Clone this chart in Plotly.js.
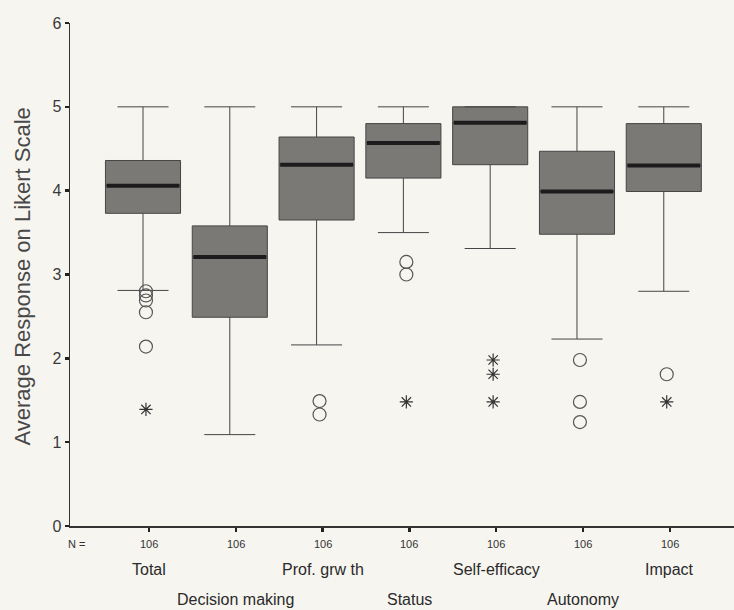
<!DOCTYPE html>
<html>
<head>
<meta charset="utf-8">
<script src="https://cdn.plot.ly/plotly-3.0.1.min.js"></script>
<style>html,body{margin:0;padding:0;background:#f7f5f0;}</style>
</head>
<body>
<div id="chart" style="width:734px;height:610px;"></div>
<script>
// Categories (first row / second row alternate)
const categories = ["Total", "Decision making", "Prof. grw th", "Status", "Self-efficacy", "Autonomy", "Impact"];
const nValues = [106, 106, 106, 106, 106, 106, 106];
const yTickValues = [0, 1, 2, 3, 4, 5, 6];

// Box statistics
const upperWhisker = [5.0, 5.0, 5.0, 5.0, 5.0, 5.0, 5.0];
const q3 = [4.36, 3.58, 4.64, 4.80, 5.0, 4.47, 4.80];
const median = [4.06, 3.21, 4.31, 4.57, 4.81, 3.99, 4.30];
const q1 = [3.73, 2.49, 3.65, 4.15, 4.31, 3.48, 3.99];
const lowerWhisker = [2.81, 1.09, 2.16, 3.50, 3.31, 2.23, 2.80];

// Outliers (circles) and extremes (asterisks) per category
const outlierCircles = [[2.80, 2.75, 2.69, 2.55, 2.14], [], [1.49, 1.33], [3.15, 3.00], [], [1.98, 1.48, 1.24], [1.81]];
const extremeStars = [[1.39], [], [], [1.48], [1.98, 1.81, 1.48], [], [1.48]];

// small drawing offsets of the original (style, in category units)
const boxShift = -0.069;
const markShift = -0.035;

const pos = categories.map((c, i) => i);
const boxPos = pos.map(p => p + boxShift);

function flatten(groups) {
  const xs = [], ys = [];
  groups.forEach((g, i) => g.forEach(v => { xs.push(i + markShift); ys.push(v); }));
  return {xs, ys};
}
const circ = flatten(outlierCircles);
const star = flatten(extremeStars);

const FONT = 'Liberation Sans, Arial, sans-serif';
const boxW = 0.865;
const traces = [
  {
    type: 'box', x: boxPos, q1: q1, median: median, q3: q3,
    lowerfence: lowerWhisker, upperfence: upperWhisker,
    width: boxW, whiskerwidth: 0.68, boxpoints: false,
    fillcolor: '#7b7976', line: {color: '#454545', width: 1},
    hoverinfo: 'skip', showlegend: false
  },
  {
    type: 'box', x: boxPos, q1: median, median: median, q3: median,
    lowerfence: median, upperfence: median,
    width: boxW * 0.97, whiskerwidth: 0, boxpoints: false,
    fillcolor: 'rgba(0,0,0,0)', line: {color: '#1c1c1c', width: 4},
    hoverinfo: 'skip', showlegend: false
  },
  {
    type: 'scatter', mode: 'markers', x: circ.xs, y: circ.ys,
    marker: {symbol: 'circle-open', size: 13, color: '#555', line: {color: '#555', width: 1.2}},
    hoverinfo: 'skip', showlegend: false
  },
  {
    type: 'scatter', mode: 'markers', x: star.xs, y: star.ys,
    marker: {symbol: 'asterisk-open', size: 11, color: '#333', line: {color: '#333', width: 1.2}},
    hoverinfo: 'skip', showlegend: false
  }
];

const annotations = [];
annotations.push({x: -0.83, y: -0.0358, xref: 'x', yref: 'paper', text: 'N =', showarrow: false,
  xanchor: 'center', yanchor: 'middle',
  font: {family: FONT, size: 11, color: '#333'}});
categories.forEach((c, i) => {
  annotations.push({x: i, y: -0.0358, xref: 'x', yref: 'paper', text: String(nValues[i]), showarrow: false,
    xanchor: 'center', yanchor: 'middle',
    font: {family: FONT, size: 11, color: '#333'}});
  annotations.push({x: i, y: i % 2 === 0 ? -0.0855 : -0.147, xref: 'x', yref: 'paper', text: c, showarrow: false,
    xanchor: 'center', yanchor: 'middle',
    font: {family: FONT, size: 16, color: '#2a2a2a'}});
});
// y-axis title
annotations.push({x: (23 - 70) / 664, y: 0.496, xref: 'paper', yref: 'paper', text: 'Average Response on Likert Scale',
  textangle: -90, showarrow: false, xanchor: 'center', yanchor: 'middle',
  font: {family: FONT, size: 22, color: '#484848'}});

const layout = {
  width: 734, height: 610,
  margin: {l: 70, r: 0, t: 23, b: 84},
  paper_bgcolor: '#f7f5f0', plot_bgcolor: '#f7f5f0',
  boxmode: 'overlay',
  xaxis: {
    range: [-0.910, 6.74], showgrid: false, zeroline: false,
    showline: true, linecolor: '#333', linewidth: 1.5,
    tickvals: pos, ticks: 'outside', ticklen: 4, tickwidth: 2.5, tickcolor: '#222',
    showticklabels: false, fixedrange: true
  },
  yaxis: {
    range: [0, 6], showgrid: false, zeroline: false,
    showline: true, linecolor: '#333', linewidth: 1.5,
    tickvals: yTickValues, ticks: 'outside', ticklen: 4, tickwidth: 2.5, tickcolor: '#222',
    tickfont: {family: FONT, size: 16, color: '#3a3a3a'},
    fixedrange: true
  },
  annotations: annotations,
  font: {family: FONT}
};

Plotly.newPlot('chart', traces, layout, {displayModeBar: false, staticPlot: true});
</script>
</body>
</html>
